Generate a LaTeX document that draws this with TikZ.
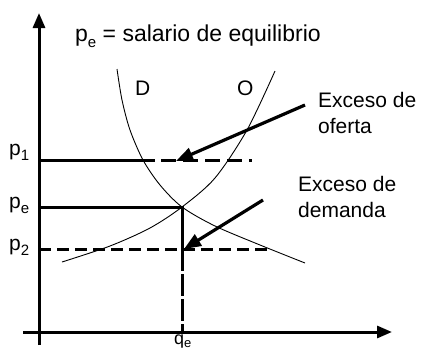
\documentclass[tikz,border=0pt]{standalone}
\usepackage{fontspec}
\setmainfont{Liberation Sans}
\usetikzlibrary{arrows.meta}
\newcommand\lowidx[1]{\raisebox{-0.28em}{\fontsize{15}{15}\selectfont #1}}
\begin{document}
\begin{tikzpicture}[x=1pt,y=-1pt,
  axis/.style={line width=3pt,-{Triangle[length=15pt,width=12pt]}},
  level/.style={line width=3pt},
  curve/.style={line width=0.9pt},
  pointer/.style={line width=3.2pt,-{Triangle[length=17pt,width=13pt]}},
  lbl/.style={inner sep=0pt,anchor=base west,font=\fontsize{21}{26}\selectfont},
]
\useasboundingbox (0,0) rectangle (429,351);
% axes
\coordinate (yb) at (39,345); \coordinate (yt) at (39,13);
\coordinate (xl) at (23,332); \coordinate (xr) at (392,332);
% curves
\draw[curve] plot[smooth] coordinates {(117,69) (122,100) (130,130) (143,160) (160,185) (182,207) (215,226) (260,245) (305,263)};
\draw[curve] plot[smooth] coordinates {(62,262) (110,246) (150,228) (182,207) (215,178) (247,130) (275,71)};
% level lines
\coordinate (p1a) at (39,160); \coordinate (p1b) at (155,160);
\coordinate (p1c) at (161,160); \coordinate (p1d) at (252,160);
\draw[level] (p1a) -- (p1b);
\draw[level,dash pattern=on 15pt off 7pt] (p1c) -- (p1d);
\coordinate (pea) at (39,207); \coordinate (eq) at (182,207);
\coordinate (qp2) at (182,249); \coordinate (qx) at (182,332);
\draw[level] (pea) -- (eq) -- (qp2);
\draw[level,dash pattern=on 22pt off 3pt] (qp2) -- (qx);
\coordinate (p2a) at (39,249); \coordinate (p2b) at (268,249);
\draw[level,dash pattern=on 12pt off 6pt] (p2a) -- (p2b);
\draw[axis] (yb) -- (yt);
\draw[axis] (xl) -- (xr);
% pointers
\coordinate (a1s) at (305,105); \coordinate (a1e) at (176,161);
\coordinate (a2s) at (263,200); \coordinate (a2e) at (184,249);
\draw[pointer] (a1s) -- (a1e);
\draw[pointer] (a2s) -- (a2e);
% labels
\node[lbl,font=\fontsize{23}{28}\selectfont] (title) at (75,41) {p\lowidx{e} = salario de equilibrio};
\node[lbl] (D) at (135,95) {D};
\node[lbl] (O) at (237,95) {O};
\node[lbl] (exo1) at (318,107) {Exceso de};
\node[lbl] (exo2) at (318,133) {oferta};
\node[lbl] (exd1) at (298,191) {Exceso de};
\node[lbl] (exd2) at (298,217) {demanda};
\node[lbl] (p1) at (9,155) {p\lowidx{1}};
\node[lbl] (pe) at (9,208) {p\lowidx{e}};
\node[lbl] (p2) at (9,250) {p\lowidx{2}};
\node[lbl,font=\fontsize{18}{20}\selectfont] (qe) at (174,344) {q\raisebox{-0.2em}{\fontsize{13}{13}\selectfont e}};
\end{tikzpicture}
\end{document}
